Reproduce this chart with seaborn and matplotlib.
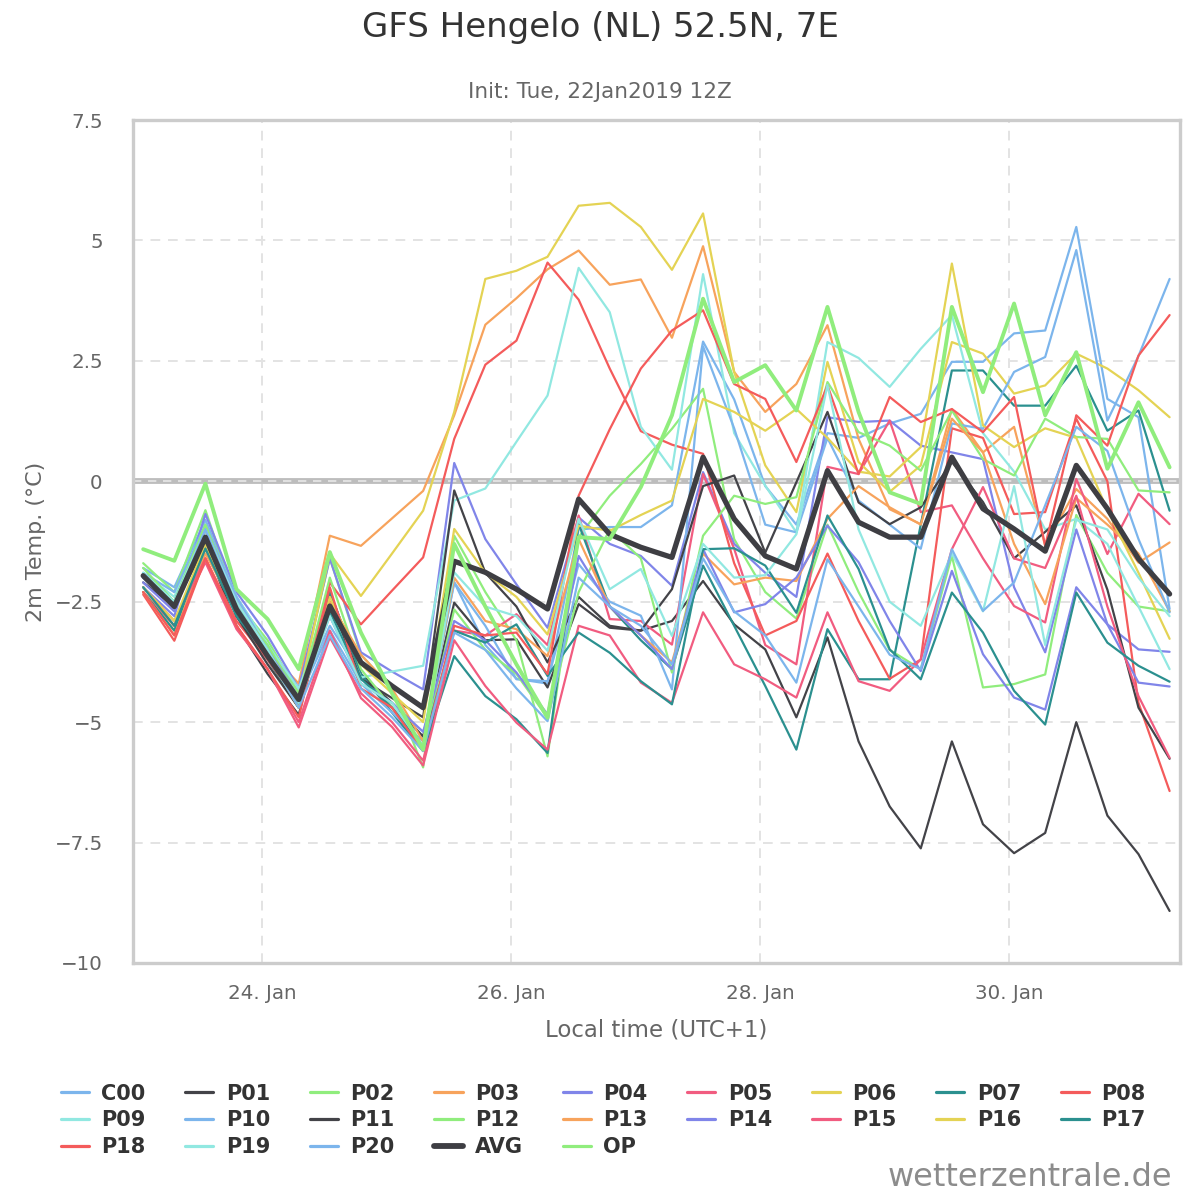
import numpy as np
import pandas as pd
import matplotlib
matplotlib.use('Agg')
import matplotlib.pyplot as plt
from matplotlib.lines import Line2D
import seaborn as sns

# 时间轴: 23 Jan 01:00 (UTC+1) 起, 每 6 小时一个点
times = pd.date_range('2019-01-23 01:00', periods=34, freq='6h')

C00 = [-1.8, -2.2, -0.8, -2.4, -3.4, -4.4, -3.0, -4.0, -4.7, -5.3,
       -2.1, -3.4, -4.1, -4.2, -1.0, -0.95, -0.95, -0.5, 2.9, 1.7,
       -0.1, -0.9, 1.0, 0.9, 1.2, 1.4, 2.48, 2.48, 3.07, 3.13,
       5.28, 1.71, 1.33, -2.65]
P01 = [-2.1, -2.6, -1.3, -3.0, -4.0, -4.85, -2.3, -4.0, -4.6, -5.3,
       -2.52, -3.3, -3.28, -4.28, -2.55, -3.04, -3.1, -2.9, -2.07, -2.97,
       -3.49, -4.9, -3.24, -5.4, -6.75, -7.62, -5.4, -7.12, -7.72, -7.3,
       -5.0, -6.94, -7.74, -8.92]
P02 = [-1.7, -2.3, -0.6, -2.5, -3.3, -4.4, -1.6, -3.6, -4.3, -5.94,
       -1.13, -2.3, -3.3, -5.71, -1.16, -0.3, 0.36, 1.09, 1.92, -1.2,
       -2.3, -2.85, -0.9, -2.3, -3.5, -3.9, -1.55, -4.28, -4.21, -4.01,
       -0.7, -1.9, -2.6, -2.7]
P03 = [-2.2, -3.0, -1.3, -2.5, -3.5, -4.2, -1.13, -1.34, -0.77, -0.2,
       1.37, 3.25, 3.8, 4.4, 4.79, 4.08, 4.19, 2.98, 4.88, 2.27,
       1.44, 2.02, 3.24, 0.88, -0.58, -0.89, 1.5, 0.6, 1.13, -1.34,
       -0.16, -0.78, -1.69, -1.27]
P04 = [-2.2, -2.8, -0.68, -2.3, -3.2, -4.3, -1.6, -3.55, -3.95, -4.32,
       0.38, -1.2, -2.14, -3.04, -0.75, -1.3, -1.55, -2.17, 0.19, -1.3,
       -1.9, -2.4, 1.33, 1.23, 1.26, 0.74, 0.6, 0.46, -2.2, -3.55,
       -1.0, -2.97, -3.49, -3.54]
P05 = [-2.3, -3.0, -1.68, -3.07, -3.9, -5.11, -3.24, -4.4, -5.0, -5.8,
       -3.1, -3.2, -2.76, -3.4, -0.71, -2.86, -2.9, -3.39, 0.15, -1.4,
       -3.4, -3.8, 0.3, 0.15, 1.26, -0.64, -0.5, -1.6, -2.59, -2.93,
       0.05, -1.51, -0.26, -0.89]
P06 = [-2.3, -3.1, -1.4, -2.6, -3.5, -4.5, -1.5, -2.38, -1.5, -0.61,
       1.44, 4.2, 4.37, 4.66, 5.72, 5.78, 5.28, 4.39, 5.56, 2.27,
       0.33, -0.64, 2.48, 0.4, -0.22, 0.33, 2.89, 2.65, 1.82, 1.99,
       2.65, 2.34, 1.89, 1.33]
P07 = [-2.3, -3.1, -1.3, -2.8, -3.7, -4.7, -2.3, -4.0, -4.8, -5.6,
       -3.63, -4.46, -4.94, -5.64, -0.89, -2.6, -3.3, -3.9, -1.75, -3.0,
       -4.25, -5.57, -3.07, -4.11, -4.11, -0.9, 2.3, 2.3, 1.57, 1.57,
       2.4, 1.05, 1.47, -0.61]
P08 = [-2.35, -3.31, -1.6, -2.9, -3.7, -4.6, -2.1, -2.97, -2.27, -1.58,
       0.88, 2.42, 2.92, 4.54, 3.77, 2.34, 1.04, 0.76, 0.57, -1.7,
       -3.2, -2.9, -1.5, -2.9, -4.1, -3.7, 1.1, 0.9, -0.68, -0.64,
       1.3, 0.0, -4.6, -6.43]
P09 = [-1.9, -2.4, -0.9, -2.4, -3.4, -4.3, -2.6, -4.07, -3.95, -3.83,
       -0.4, -0.15, 0.82, 1.78, 4.43, 3.51, 1.13, 0.24, 4.3, 1.0,
       -0.09, -1.06, 2.89, 2.56, 1.96, 2.75, 3.45, 1.0, 0.2, -1.0,
       -0.78, -1.3, -2.6, -3.9]
P10 = [-1.9, -2.3, -0.9, -2.4, -3.5, -4.5, -3.1, -4.2, -4.8, -5.4,
       -2.1, -3.0, -4.11, -4.15, -1.72, -2.5, -2.79, -4.32, 2.8, 1.1,
       -0.9, -1.06, 0.9, -0.4, -0.9, -1.4, 1.2, 1.09, 2.27, 2.58,
       4.8, 1.26, 2.6, 4.2]
P11 = [-2.0, -2.5, -1.0, -2.8, -3.8, -4.7, -2.5, -4.1, -4.5, -4.9,
       -0.19, -1.9, -2.6, -3.76, -2.4, -3.0, -3.1, -2.24, -0.1, 0.12,
       -1.48, -0.02, 1.44, -0.44, -0.89, -0.54, 0.4, -0.43, -1.6, -1.05,
       -0.5, -2.25, -4.7, -5.76]
P12 = [-1.8, -2.5, -0.9, -2.6, -3.4, -4.5, -2.0, -3.9, -4.7, -5.5,
       -2.66, -3.5, -4.0, -4.91, -2.3, -1.0, -1.6, -3.97, -1.13, -0.3,
       -0.47, -0.33, 2.06, 1.02, 0.74, 0.22, 1.47, 0.46, 0.12, 1.3,
       0.92, 0.88, -0.19, -0.23]
P13 = [-2.3, -3.2, -1.5, -2.7, -3.6, -4.6, -2.5, -3.6, -4.3, -5.4,
       -2.0, -2.9, -3.07, -3.63, -1.2, -2.6, -3.2, -3.76, -1.5, -2.14,
       -2.0, -2.07, -0.78, -0.1, -0.54, -0.9, 1.3, 0.6, -1.3, -2.55,
       -0.35, -0.9, -1.5, -2.7]
P14 = [-2.1, -2.7, -1.0, -2.5, -3.5, -4.5, -2.8, -4.2, -4.6, -5.2,
       -2.9, -3.3, -3.97, -4.84, -1.55, -2.6, -3.2, -3.9, -1.41, -2.72,
       -2.55, -2.0, -0.92, -1.68, -2.9, -3.94, -1.86, -3.59, -4.49, -4.74,
       -2.2, -2.97, -4.18, -4.26]
P15 = [-2.2, -2.9, -1.6, -3.0, -3.9, -5.0, -3.1, -4.5, -5.1, -5.9,
       -3.3, -4.25, -5.01, -5.57, -3.0, -3.2, -4.18, -4.6, -2.72, -3.8,
       -4.11, -4.49, -2.72, -4.15, -4.35, -3.7, -1.41, -0.12, -1.6, -1.8,
       -0.3, -2.6, -4.46, -5.74]
P16 = [-2.2, -2.9, -1.3, -2.7, -3.6, -4.7, -2.4, -3.8, -4.4, -5.0,
       -0.99, -1.9, -2.4, -3.18, -0.92, -1.03, -0.7, -0.4, 1.71, 1.44,
       1.05, 1.5, 0.9, 0.2, 0.1, 0.71, 4.52, 1.16, 0.71, 1.1,
       0.9, -0.6, -1.9, -3.27]
P17 = [-2.2, -3.0, -1.4, -2.8, -3.6, -4.6, -2.7, -4.1, -4.7, -5.5,
       -3.1, -3.35, -2.97, -4.04, -3.14, -3.56, -4.15, -4.63, -1.41, -1.39,
       -1.75, -2.73, -0.71, -1.82, -3.49, -4.11, -2.31, -3.14, -4.35, -5.05,
       -2.31, -3.35, -3.83, -4.16]
P18 = [-2.3, -3.2, -1.6, -3.0, -3.9, -4.9, -2.2, -4.3, -4.7, -5.6,
       -3.0, -3.2, -3.14, -4.0, -0.3, 1.08, 2.34, 3.13, 3.55, 2.02,
       1.71, 0.4, 1.99, 0.15, 1.75, 1.23, 1.5, 1.02, 1.75, -1.34,
       1.37, 0.74, 2.61, 3.45]
P19 = [-1.9, -2.5, -1.0, -2.5, -3.5, -4.6, -2.8, -4.2, -4.6, -5.5,
       -1.89, -2.6, -2.8, -3.52, -0.78, -2.24, -1.82, -3.21, -1.3, -2.0,
       -1.95, -1.1, 2.0, -1.0, -2.5, -3.0, -1.5, -2.7, -0.1, -3.4,
       -0.8, -1.0, -2.0, -2.8]
P20 = [-2.0, -2.6, -1.0, -2.6, -3.6, -4.7, -3.2, -4.3, -4.9, -5.6,
       -3.14, -3.5, -4.3, -4.98, -2.0, -2.6, -3.0, -3.8, -1.6, -2.7,
       -3.2, -4.18, -1.62, -2.6, -3.6, -3.9, -1.41, -2.69, -2.1, -0.5,
       1.13, 0.63, -1.2, -2.72]
AVG = [-1.96, -2.6, -1.16, -2.66, -3.63, -4.53, -2.59, -3.76, -4.25, -4.7,
       -1.66, -1.89, -2.24, -2.65, -0.37, -1.1, -1.37, -1.58, 0.5, -0.78,
       -1.55, -1.82, 0.22, -0.85, -1.16, -1.16, 0.5, -0.57, -0.99, -1.45,
       0.33, -0.57, -1.61, -2.34]
OP = [-1.41, -1.65, -0.05, -2.24, -2.86, -3.9, -1.47, -3.14, -4.4, -5.57,
      -1.3, -2.6, -3.8, -4.91, -1.16, -1.2, -0.12, 1.37, 3.79, 2.06,
      2.41, 1.47, 3.62, 1.44, -0.23, -0.47, 3.62, 1.85, 3.69, 1.37,
      2.68, 0.26, 1.64, 0.29]

names = ['C00', 'P01', 'P02', 'P03', 'P04', 'P05', 'P06', 'P07', 'P08', 'P09',
         'P10', 'P11', 'P12', 'P13', 'P14', 'P15', 'P16', 'P17', 'P18', 'P19',
         'P20', 'AVG', 'OP']
series = [C00, P01, P02, P03, P04, P05, P06, P07, P08, P09,
          P10, P11, P12, P13, P14, P15, P16, P17, P18, P19,
          P20, AVG, OP]

# Highcharts 默认配色
base = ['#7cb5ec', '#434348', '#90ed7d', '#f7a35c', '#8085e9',
        '#f15c80', '#e4d354', '#2b908f', '#f45b5b', '#91e8e1']
colors = {n: base[i % 10] for i, n in enumerate(names[:21])}
colors['AVG'] = '#3e3e43'
colors['OP'] = '#90ed7d'
widths = {n: 1.6 for n in names}
widths['AVG'] = 3.8
widths['OP'] = 2.8

sns.set_style('white')
plt.rcParams['font.family'] = ['DejaVu Sans']
plt.rcParams['lines.solid_joinstyle'] = 'round'
plt.rcParams['lines.solid_capstyle'] = 'round'

fig = plt.figure(figsize=(12, 12), dpi=100)
ax = fig.add_axes([0.111, 0.1975, 0.872, 0.7025])

# 网格线
for yv in [-7.5, -5, -2.5, 2.5, 5]:
    ax.axhline(yv, color='#e3e3e3', lw=1.4, ls=(0, (5, 4)), zorder=0)
day_ticks = pd.to_datetime(['2019-01-24', '2019-01-26', '2019-01-28', '2019-01-30'])
for d in day_ticks:
    ax.axvline(d, color='#e3e3e3', lw=1.4, ls=(0, (5, 4)), zorder=0)
ax.axhline(0, color='#bdbdbd', lw=4.2, zorder=1)
ax.axhline(0, color='#e8e8e8', lw=1.2, ls=(0, (5, 4)), zorder=1.5)

for i, (n, vals) in enumerate(zip(names, series)):
    df = pd.DataFrame({'time': times, 'temp': vals})
    sns.lineplot(data=df, x='time', y='temp', ax=ax, color=colors[n],
                 linewidth=widths[n], zorder=2 + i * 0.01)

half = pd.Timedelta(hours=1.93)
ax.set_xlim(times[0] - half, times[-1] + half)
ax.set_ylim(-10, 7.5)
ax.set_yticks([-10, -7.5, -5, -2.5, 0, 2.5, 5, 7.5])
ax.set_yticklabels(['\u221210', '\u22127.5', '\u22125', '\u22122.5', '0', '2.5', '5', '7.5'])
ax.set_xticks(day_ticks)
ax.set_xticklabels(['24. Jan', '26. Jan', '28. Jan', '30. Jan'])
ax.tick_params(axis='both', length=0, labelsize=14.3, colors='#666666')
ax.tick_params(axis='y', pad=22)
ax.tick_params(axis='x', pad=15)

ax.set_xlabel('Local time (UTC+1)', fontsize=16.5, color='#666666', labelpad=11)
ax.set_ylabel('2m Temp. (°C)', fontsize=16, color='#666666', labelpad=6)

for s in ax.spines.values():
    s.set_visible(True)
    s.set_color('#cccccc')
    s.set_linewidth(2.4)

fig.text(0.5, 0.977, 'GFS Hengelo (NL) 52.5N, 7E', ha='center', va='center',
         fontsize=24.5, color='#333333')
fig.text(0.5, 0.923, 'Init: Tue, 22Jan2019 12Z', ha='center', va='center',
         fontsize=15.5, color='#666666')

# 图例: 9 列, 按行排列
handles = [Line2D([0], [0], color=colors[n], lw=(4.2 if n == 'AVG' else 2.3))
           for n in names]
order = []
for c in range(9):
    for r in range(3):
        k = r * 9 + c
        if k < len(names):
            order.append(k)
fig.legend([handles[k] for k in order], [names[k] for k in order],
           ncol=9, loc='upper left', bbox_to_anchor=(0.035, 0.1125),
           frameon=False, handlelength=1.35, handletextpad=0.6,
           columnspacing=1.9, labelspacing=0.32,
           prop={'size': 15, 'weight': 'bold'}, labelcolor='#333333')

fig.text(0.977, 0.006, 'wetterzentrale.de', ha='right', va='bottom',
         fontsize=23, color='#8c8c8c')

fig.savefig('out.png', dpi=100)
